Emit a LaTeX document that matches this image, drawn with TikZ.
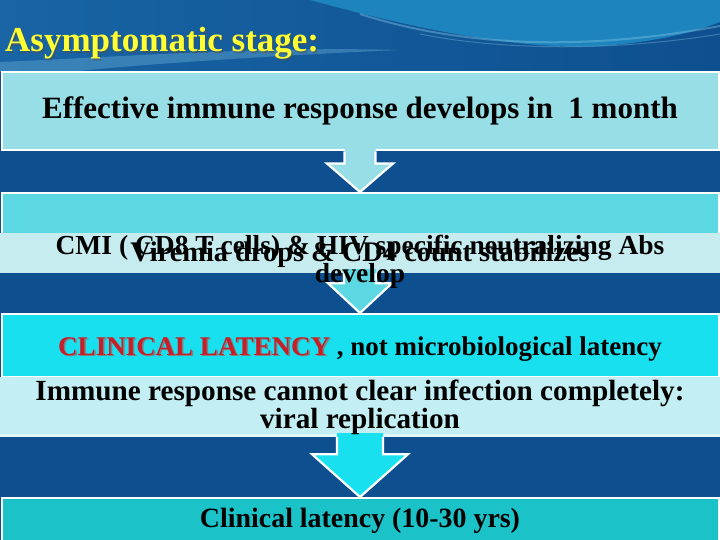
\documentclass[tikz,border=0pt]{standalone}
\usepackage{fontspec}
\setmainfont{Liberation Serif}
\usetikzlibrary{calc}
\definecolor{bgblue}{RGB}{14,79,143}
\definecolor{midblue}{RGB}{24,100,164}
\definecolor{headteal}{RGB}{30,132,190}
\definecolor{streak}{RGB}{120,190,225}
\definecolor{boxa}{RGB}{152,222,230}
\definecolor{boxb}{RGB}{92,216,226}
\definecolor{band}{RGB}{198,236,240}
\definecolor{boxc}{RGB}{24,224,238}
\definecolor{boxd}{RGB}{195,238,243}
\definecolor{boxe}{RGB}{27,195,201}
\definecolor{titley}{RGB}{255,255,51}
\definecolor{latred}{RGB}{200,30,40}
\newcommand\myblockarrow[6]{%
  \fill[#3] ($(#1.south)+(-#4,-4)$) -- ($(#1.south)+(-#4,#6)$) -- ($(#1.south)+(-#5,#6)$)
     -- (#2.north) -- ($(#1.south)+(#5,#6)$) -- ($(#1.south)+(#4,#6)$) -- ($(#1.south)+(#4,-4)$) -- cycle;
  \draw[arrowline] ($(#1.south)+(-#4,0)$) -- ($(#1.south)+(-#4,#6)$) -- ($(#1.south)+(-#5,#6)$)
     -- (#2.north) -- ($(#1.south)+(#5,#6)$) -- ($(#1.south)+(#4,#6)$) -- ($(#1.south)+(#4,0)$);
}
\newcommand\fs[2]{\fontsize{#1}{#2}\selectfont}
\tikzset{
  panel/.style={draw=white, line width=2pt, inner sep=0pt, minimum width=717pt},
  flat/.style={inner sep=0pt, minimum width=720pt},
  arrowline/.style={draw=white, line width=2.2pt, line join=miter},
  txt/.style={font=\bfseries, text=black, inner sep=0pt, anchor=base, align=center},
  ttl/.style={font=\bfseries\fs{35}{36}, text=titley, inner sep=0pt, anchor=base west}
}
\begin{document}
\begin{tikzpicture}[x=1pt,y=-1pt]
\useasboundingbox (0,0) rectangle (720,540);
\fill[bgblue] (0,0) rectangle (720,540);
% header waves
\shade[left color=midblue, right color=bgblue] (0,0) rectangle (720,72);
\fill[headteal] (310,0) .. controls (420,30) and (520,50) .. (600,46) .. controls (660,42) and (700,30) .. (720,22) -- (720,0) -- cycle;
\draw[streak, line width=2pt, opacity=0.45] (360,14) .. controls (460,46) and (580,52) .. (720,26);
\draw[streak, line width=1pt, opacity=0.4] (420,34) .. controls (500,50) and (610,52) .. (720,34);
\fill[streak, opacity=0.35] (0,72) -- (0,62) .. controls (100,58) and (260,46) .. (400,50) .. controls (260,56) and (120,66) .. (70,72) -- cycle;
\node[ttl, text=black!70, opacity=0.5] at (6.5,53.5) {Asymptomatic stage:};
\node[ttl] (title) at (5,52) {Asymptomatic stage:};
% boxes
\node[panel, fill=boxa, minimum height=78pt] (b1) at (360,111.5) {};
\node[panel, fill=boxb, minimum height=79pt] (b2) at (360,232.5) {};
\node[flat, fill=band, minimum height=40pt] (cmi) at (360,253) {};
\node[panel, fill=boxc, minimum height=63pt] (b3) at (360,345.5) {};
\node[flat, fill=boxd, minimum height=60pt] (b4) at (360,407) {};
\draw[boxd!50!white, line width=3pt] (0,435) -- (720,435);
\node[panel, fill=boxe, minimum height=48pt] (b5) at (360,522) {};
% arrows
\myblockarrow{b1}{b2}{boxa}{15.5}{33}{12}
\myblockarrow{cmi}{b3}{boxb}{16}{32}{10}
\myblockarrow{b4}{b5}{boxc}{23}{48}{17}
% texts
\node[txt, font=\bfseries\fs{31}{32}] (t1) at (360,119) {Effective immune response develops in\ \ 1 month};
\node[txt, font=\bfseries\fs{28.4}{29}] (t2b) at (360,261) {Viremia drops \& CD4 count stabilizes};
\node[txt, font=\bfseries\fs{27.5}{27.5}] (t2a) at (360,282) {CMI ( CD8 T cells) \& HIV specific neutralizing Abs\\develop};
\node[txt, font=\bfseries\fs{27}{28}, text=gray] at (361.5,356.5) {CLINICAL LATENCY\phantom{ , not microbiological latency}};
\node[txt, font=\bfseries\fs{27}{28}] (t3) at (360,355) {\textcolor{latred}{CLINICAL LATENCY} , not microbiological latency};
\node[txt, font=\bfseries\fs{29.2}{28}] (t4) at (360,428) {Immune response cannot clear infection completely:\\viral replication};
\node[txt, font=\bfseries\fs{27.9}{28}] (t5) at (360,527) {Clinical latency (10-30 yrs)};
\end{tikzpicture}
\end{document}
